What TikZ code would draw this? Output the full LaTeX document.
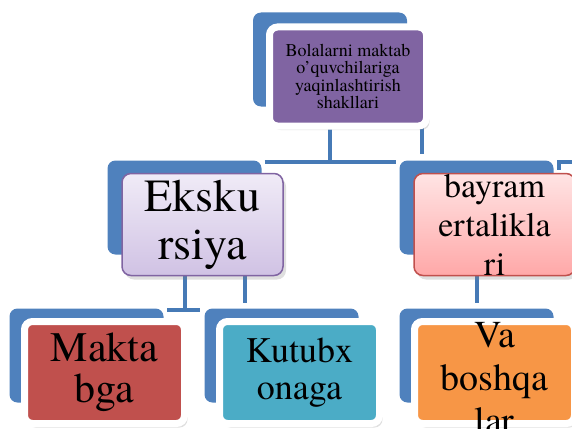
\documentclass[tikz,border=0pt]{standalone}
\usepackage{fontspec}
\setmainfont{texgyretermes-regular.otf}
\usetikzlibrary{shadows}

\definecolor{backblue}{RGB}{79,129,189}
\definecolor{linkblue}{RGB}{70,122,182}
\definecolor{rootpurple}{RGB}{128,100,162}
\definecolor{lavtop}{RGB}{240,235,247}
\definecolor{lavbot}{RGB}{208,194,228}
\definecolor{pinktop}{RGB}{255,228,228}
\definecolor{pinkbot}{RGB}{255,168,168}
\definecolor{brickred}{RGB}{192,80,77}
\definecolor{aqua}{RGB}{75,172,198}
\definecolor{tangerine}{RGB}{247,150,70}

\begin{document}
\begin{tikzpicture}[x=1pt,y=-1pt]
\tikzset{
back/.style={rectangle,rounded corners=8pt,fill=backblue,minimum width=154pt,minimum height=94pt,inner sep=0pt,node distance=148pt},
solidbox/.style={rectangle,rounded corners=8pt,draw=white,line width=7pt,minimum width=160pt,minimum height=102pt,
inner sep=0pt,align=center,drop shadow={shadow xshift=3pt,shadow yshift=-4pt,opacity=0.25}},
softbox/.style={rectangle,rounded corners=9pt,line width=1.5pt,minimum width=161pt,minimum height=102pt,
inner sep=0pt,align=center,drop shadow={shadow xshift=3pt,shadow yshift=-4pt,opacity=0.25}},
link/.style={draw=linkblue,line width=4pt},
}
\useasboundingbox (0,0) rectangle (572,428);

\node [back] (rootback) at (330,59.5) {};
\node [back, below of=rootback, xshift=-145.5pt] (ekskback) {};
\node [back, below of=rootback, xshift=146.5pt] (bayback) {};
\node [back, below of=ekskback, xshift=-98pt] (maktback) {};
\node [back, below of=ekskback, xshift=97pt] (kutback) {};
\node [back, below of=bayback] (vaback) {};

\coordinate (busL) at ([xshift=3pt,yshift=-1.5pt]ekskback.north east);
\coordinate (busR) at ([xshift=-3pt,yshift=-1.5pt]bayback.north west);
\coordinate (busL2) at ([xshift=3.5pt,yshift=-1.5pt]maktback.north east);
\coordinate (busR2) at ([xshift=-4pt,yshift=-1.5pt]kutback.north west);
\draw[link] (busL) -- (busR);
\draw[link] (rootback.south) -- (rootback.south |- busL);
\draw[link] ([xshift=15pt]rootback.south east) -- ++(0,47);
\draw[link] ([xshift=5.5pt,yshift=-9.5pt]bayback.north east) |- ++(13,-8);
\draw[link] (busL2) -- (busR2);
\draw[link] (ekskback.south) -- (ekskback.south |- busL2);
\draw[link] ([xshift=-16.5pt]ekskback.south east) -- ++(0,48);
\draw[link] (bayback.south) -- ++(0,48);

\node [solidbox, fill=rootpurple, minimum width=157pt, minimum height=99pt, font=\fontsize{18}{17.3}\selectfont]
  (root) at ([xshift=18pt,yshift=-17pt]rootback.center) {Bolalarni maktab\\o’quvchilariga\\yaqinlashtirish\\shakllari};
\node [softbox, draw=rootpurple, top color=lavtop, bottom color=lavbot, font=\fontsize{46}{48}\selectfont]
  (eksk) at ([xshift=18pt,yshift=-17pt]ekskback.center) {Eksku\\rsiya};
\node [softbox, draw=brickred, top color=pinktop, bottom color=pinkbot, font=\fontsize{34}{39}\selectfont]
  (bay) at ([xshift=18pt,yshift=-17pt]bayback.center) {bayram\\ertalikla\\ri};
\node [solidbox, fill=brickred, font=\fontsize{42}{41}\selectfont]
  (makt) at ([xshift=18pt,yshift=-17pt]maktback.center) {Makta\\bga};
\node [solidbox, fill=aqua, font=\fontsize{36}{37}\selectfont]
  (kut) at ([xshift=18pt,yshift=-17pt]kutback.center) {Kutubx\\onaga};
% text a bit low, as in the original
\node [solidbox, fill=tangerine, inner ysep=-13pt, font=\fontsize{38}{43}\selectfont]
  (va) at ([xshift=18pt,yshift=-17pt]vaback.center) {\rule{0pt}{36pt}Va\\boshqa\\lar};
\end{tikzpicture}
\end{document}
